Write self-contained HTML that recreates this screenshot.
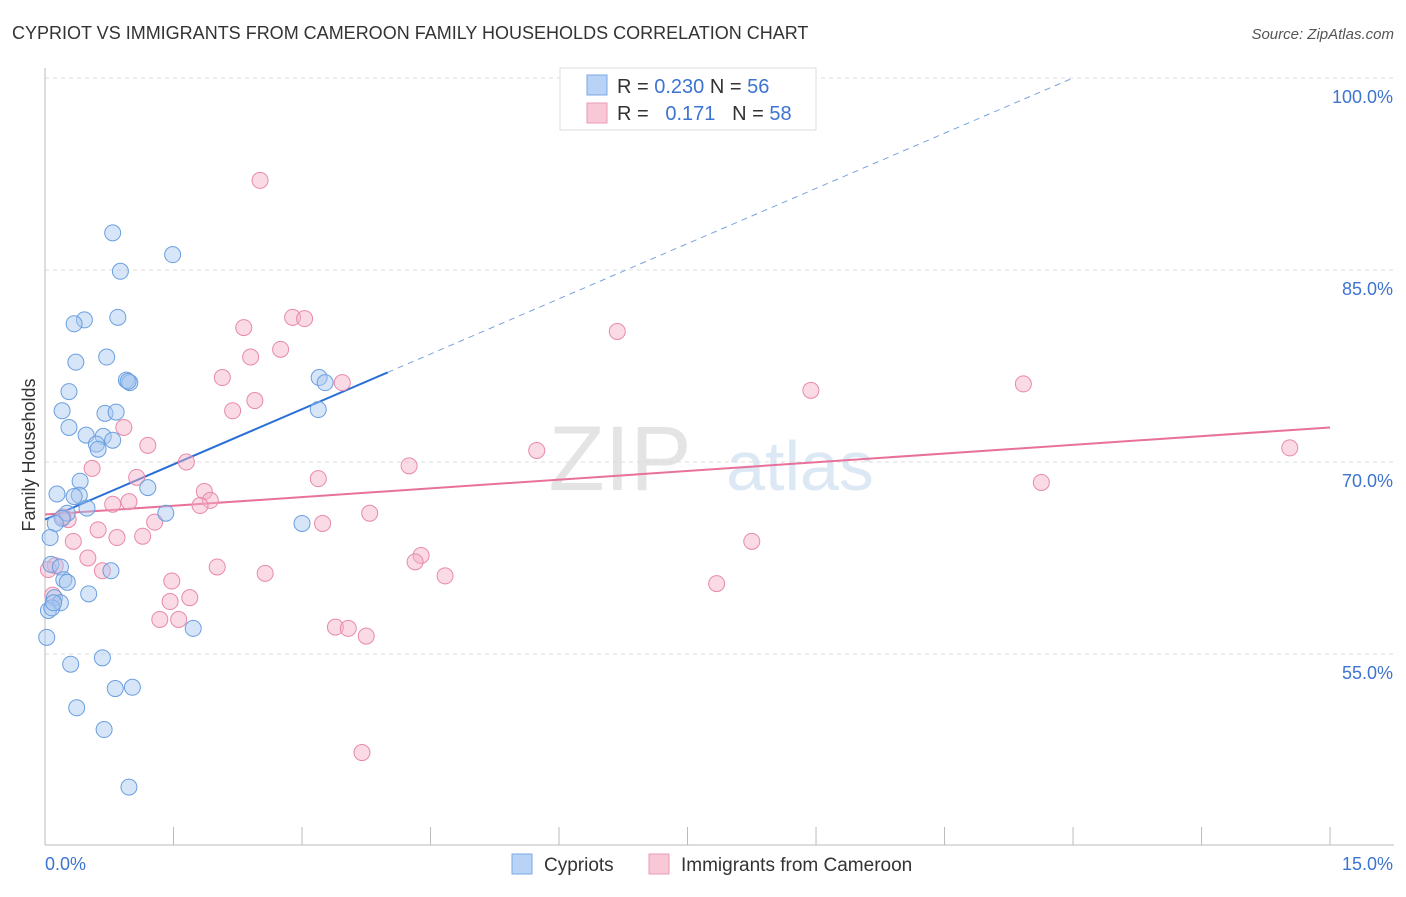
<!DOCTYPE html>
<html><head><meta charset="utf-8"><style>
body{margin:0;background:#fff;font-family:"Liberation Sans",sans-serif;}
svg text{font-family:"Liberation Sans",sans-serif;}
</style></head><body>
<svg id="c" width="1406" height="892" xmlns="http://www.w3.org/2000/svg">
<text x="12" y="39" font-size="18" fill="#333">CYPRIOT VS IMMIGRANTS FROM CAMEROON FAMILY HOUSEHOLDS CORRELATION CHART</text>
<text x="1394" y="39" font-size="15" fill="#555" text-anchor="end" font-style="italic">Source: ZipAtlas.com</text>
<text x="620" y="490" font-size="92" fill="#e4e4e4" font-family="Liberation Serif" text-anchor="middle">ZIP</text>
<text x="800" y="490" font-size="70" fill="#dde8f5" text-anchor="middle">atlas</text>
<g id="grid"></g><g id="axes"></g><g id="lines"></g><g id="pts"></g>
<text x="35" y="455" font-size="18" fill="#333" text-anchor="middle" transform="rotate(-90 35 455)">Family Households</text>
<text x="45" y="870" font-size="18" fill="#3d74d1">0.0%</text>
<text x="1393" y="870" font-size="18" fill="#3d74d1" text-anchor="end">15.0%</text>
<g>
<rect x="560" y="68" width="256" height="62" fill="#fff" stroke="#ddd"/>
<rect x="587" y="75" width="20" height="20" fill="#b8d3f5" stroke="#7aa7e6"/>
<text x="617" y="93" font-size="20" fill="#333">R = <tspan fill="#3d74d1">0.230</tspan>   N = <tspan fill="#3d74d1">56</tspan></text>
<rect x="587" y="103" width="20" height="20" fill="#f8c8d6" stroke="#ec9ab4"/>
<text x="617" y="120" font-size="20" fill="#333" xml:space="preserve">R =   <tspan fill="#3d74d1">0.171</tspan>   N = <tspan fill="#3d74d1">58</tspan></text>
</g>
<rect x="512" y="854" width="20" height="20" fill="#b8d3f5" stroke="#7aa7e6"/>
<text x="544" y="871" font-size="19" fill="#333">Cypriots</text>
<rect x="649" y="854" width="20" height="20" fill="#f8c8d6" stroke="#ec9ab4"/>
<text x="681" y="871" font-size="19" fill="#333">Immigrants from Cameroon</text>
</svg>
<script>
const blueX=[0.79,1.49,0.88,0.46,0.34,0.85,0.72,0.36,0.95,0.99,0.28,0.20,0.70,0.83,0.28,0.48,0.68,0.79,0.60,0.62,3.20,3.27,3.19,1.20,0.41,0.14,0.40,0.34,0.49,0.26,0.20,0.12,1.41,3.00,0.06,0.07,0.18,0.77,0.22,0.26,0.51,0.11,0.18,0.04,1.73,0.02,0.67,0.30,0.82,1.02,0.37,0.69,0.98,0.97,0.08,0.10];
const blueY=[87.9,86.2,84.9,81.1,80.8,81.3,78.2,77.8,76.4,76.2,75.5,74.0,73.8,73.9,72.7,72.1,72.0,71.7,71.4,71.0,76.6,76.2,74.1,68.0,68.5,67.5,67.4,67.3,66.4,66.0,65.6,65.2,66.0,65.2,64.1,62.0,61.8,61.5,60.8,60.6,59.7,59.4,59.0,58.4,57.0,56.3,54.7,54.2,52.3,52.4,50.8,49.1,44.6,76.3,58.6,59.0];
const pinkX=[2.51,2.89,3.03,2.32,6.68,2.75,2.40,2.07,3.47,8.94,11.42,2.45,2.19,0.92,1.20,5.74,14.53,0.55,1.65,4.25,1.07,3.19,11.63,1.86,1.93,1.81,0.98,0.79,3.79,1.28,0.27,3.24,0.62,0.84,1.14,0.33,8.25,0.50,4.39,4.32,0.67,2.01,2.57,4.67,1.48,7.84,1.69,1.46,1.34,1.56,3.39,3.54,3.75,3.70,0.12,0.09,0.21,0.04];
const pinkY=[92.0,81.3,81.2,80.5,80.2,78.8,78.2,76.6,76.2,75.6,76.1,74.8,74.0,72.7,71.3,70.9,71.1,69.5,70.0,69.7,68.8,68.7,68.4,67.7,67.0,66.6,66.9,66.7,66.0,65.3,65.5,65.2,64.7,64.1,64.2,63.8,63.8,62.5,62.7,62.2,61.5,61.8,61.3,61.1,60.7,60.5,59.4,59.1,57.7,57.7,57.1,57.0,56.4,47.3,61.9,59.6,65.7,61.6];
const yTicks=[100,85,70,55];
const yTickLabels=["100.0%","85.0%","70.0%","55.0%"];
const xTicks=[0,1.5,3,4.5,6,7.5,9,10.5,12,13.5,15];
const blueFit=[0,65.5,4.0,77.0];   // x0,y0,x1,y1 (solid part)
const blueDashEnd=[12.0,100.0];
const pinkFit=[0,65.9,15,72.7];
const NS="http://www.w3.org/2000/svg";
const sx=v=>45+v*85.67, sy=v=>78+(100-v)*12.8;
function mk(tag,attrs,parent){const e=document.createElementNS(NS,tag);for(const k in attrs)e.setAttribute(k,attrs[k]);document.getElementById(parent).appendChild(e);return e;}
yTicks.forEach((t,i)=>{
 const g=mk('line',{x1:45,x2:1394,y1:sy(t),y2:sy(t),stroke:'#ddd','stroke-dasharray':'4,4'},'grid');
 
 
 const tx=mk('text',{x:1393,y:sy(t)+25,'font-size':18,fill:'#3d74d1','text-anchor':'end'},'grid');
 tx.textContent=yTickLabels[i];
 
 
});
const ax=mk('line',{x1:45,x2:45,y1:68,y2:845,stroke:'#bbb'},'axes');


const bx=mk('line',{x1:45,x2:1394,y1:845,y2:845,stroke:'#bbb'},'axes');


xTicks.forEach(t=>{
 const l=mk('line',{x1:sx(t),x2:sx(t),y1:827,y2:845,stroke:'#bbb'},'axes');
 
 
});
const bd=mk('line',{x1:sx(blueFit[2]),y1:sy(blueFit[3]),x2:sx(blueDashEnd[0]),y2:sy(blueDashEnd[1]),stroke:'#7aa3dc','stroke-width':1,'stroke-dasharray':'6,5'},'lines');


function drawPts(X,Y,fill,stroke,name){X.forEach((x,i)=>{
 const c=mk('circle',{cx:sx(x),cy:sy(Y[i]),r:8,fill:fill,'fill-opacity':0.45,stroke:stroke,'stroke-width':1},'pts');
 
 
});}
drawPts(pinkX,pinkY,'#f5b0c6','#e889a8','cameroon-point');
drawPts(blueX,blueY,'#a6c6f0','#6a9fe0','cypriot-point');
const bl=mk('line',{x1:sx(blueFit[0]),y1:sy(blueFit[1]),x2:sx(blueFit[2]),y2:sy(blueFit[3]),stroke:'#2a6fd6','stroke-width':2},'lines');


const pl=mk('line',{x1:sx(pinkFit[0]),y1:sy(pinkFit[1]),x2:sx(pinkFit[2]),y2:sy(pinkFit[3]),stroke:'#e8719a','stroke-width':2},'lines');


</script>
</body></html>
